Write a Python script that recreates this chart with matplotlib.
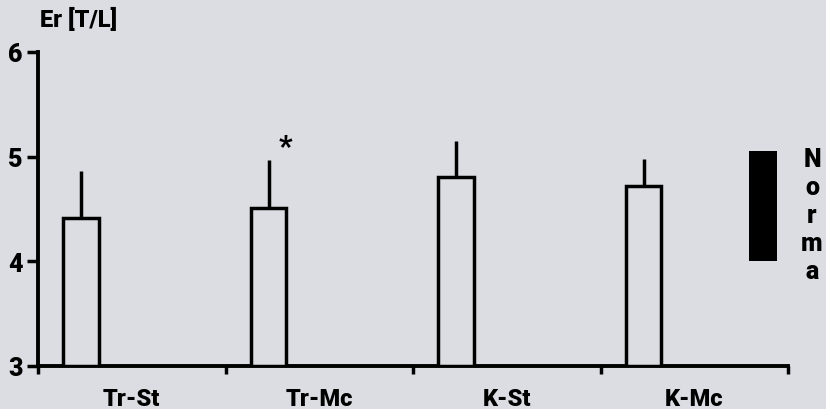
import matplotlib.pyplot as plt

groups = ["Tr-St", "Tr-Mc", "K-St", "K-Mc"]
means = [4.41, 4.51, 4.81, 4.72]
upper = [4.86, 4.97, 5.15, 4.98]
norma_low = 4.0
norma_high = 5.05
star_group = "Tr-Mc"

bg = "#dcdde3"
plt.rcParams["font.family"] = ["Roboto", "DejaVu Sans"]
plt.rcParams["font.weight"] = 900

fig = plt.figure(figsize=(8.26, 4.10), dpi=100, facecolor=bg)
ax = fig.add_axes([38 / 826, 43 / 410, 750 / 826, 314 / 410], facecolor=bg)

pos = [i + 0.23 for i in range(len(groups))]
err = [u - m for u, m in zip(upper, means)]
ax.bar(pos, [m - 3 for m in means], bottom=3, width=0.19,
       facecolor=bg, edgecolor="black", linewidth=2.5, zorder=3)
ax.errorbar(pos, means, yerr=[[0] * len(err), err], fmt="none",
            ecolor="black", elinewidth=2.5, capsize=0, zorder=2)

si = groups.index(star_group)
ax.text(pos[si] + 0.09, upper[si] + 0.12, "*", ha="center", va="center",
        fontsize=21, fontweight=900)

# Norma box
ax.bar(3.865, norma_high - norma_low, bottom=norma_low, width=0.15,
       color="black", zorder=3)
for k, ch in enumerate("Norma"):
    fig.text(812 / 826, 1 - (160 + k * 28) / 410, ch, ha="center",
             va="center", fontsize=18, fontweight=900)

ax.set_xlim(0, 4)
ax.set_ylim(3, 6)
ax.set_yticks([3, 4, 5, 6])
ax.set_xticks([0, 1, 2, 3, 4])
ax.set_xticklabels([])
ax.tick_params(axis="y", direction="out", length=8, width=2.5,
               labelsize=18, pad=3)
ax.tick_params(axis="x", direction="out", length=6, width=2.5)
for lab in ax.get_yticklabels():
    lab.set_fontweight(900)
for i, g in enumerate(groups):
    ax.text(i + 0.5, 2.69, g, ha="center", va="center", fontsize=17,
            fontweight=900, clip_on=False)

for s in ["top", "right"]:
    ax.spines[s].set_visible(False)
for s in ["left", "bottom"]:
    ax.spines[s].set_linewidth(2.8)

fig.text(40 / 826, 1 - 20 / 410, "Er [T/L]", ha="left", va="center",
         fontsize=17, fontweight=900)

fig.savefig("out.png", dpi=100, facecolor=bg)
